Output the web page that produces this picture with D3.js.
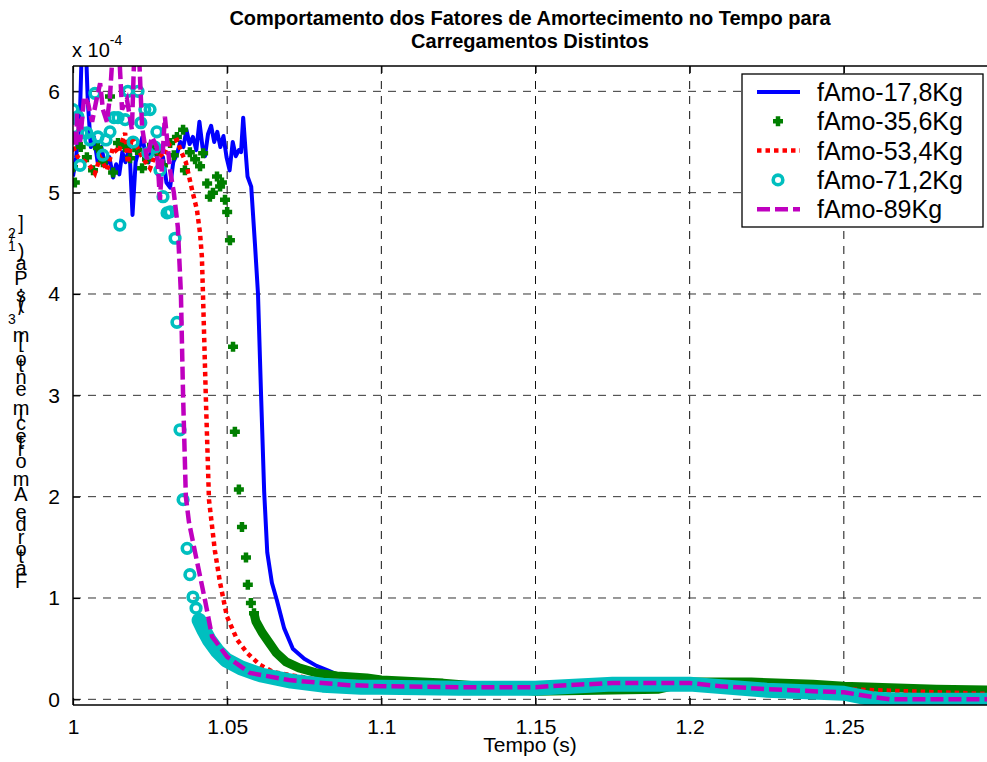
<!DOCTYPE html>
<html><head><meta charset="utf-8">
<script src="https://cdn.jsdelivr.net/npm/d3@7"></script>
<style>body{margin:0;background:#fff}svg{display:block;font-family:"Liberation Sans",Arial,Helvetica,sans-serif}</style>
</head><body><svg id="c" width="987" height="762"></svg>
<script>
// ---------- texts & ticks ----------
const titleLines = ["Comportamento dos Fatores de Amortecimento no Tempo para", "Carregamentos Distintos"];
const xLabel = "Tempo (s)";
const yLabelParts = [["Fator de Amortecimento [m", false], ["3", true], ["/(s.Pa)", false], ["1/2", true], ["]", false]];
const xTicks = [1, 1.05, 1.1, 1.15, 1.2, 1.25];
const xTickLabels = ["1", "1.05", "1.1", "1.15", "1.2", "1.25"];
const yTicks = [0, 1, 2, 3, 4, 5, 6];
const yTickLabels = ["0", "1", "2", "3", "4", "5", "6"];
const yExponentBase = "x 10";
const yExponent = "-4";
const seriesNames = ["fAmo-17,8Kg", "fAmo-35,6Kg", "fAmo-53,4Kg", "fAmo-71,2Kg", "fAmo-89Kg"];
const seriesColors = ["#0000ff", "#007f00", "#ff0000", "#00bfbf", "#bf00bf"];

// ---------- data (values in units of 1e-4) ----------
const fAmo178 = [[1.0000,5.16],[1.0010,5.35],[1.0022,5.70],[1.0030,6.60],[1.0040,6.60],[1.0048,5.90],[1.0058,5.45],[1.0068,5.55],[1.0080,5.30],[1.0092,5.45],[1.0105,5.26],[1.0118,5.35],[1.0130,5.15],[1.0140,5.28],[1.0150,5.18],[1.0160,5.40],[1.0170,5.30],[1.0183,5.45],[1.0193,4.78],[1.0203,5.30],[1.0213,5.42],[1.0225,5.55],[1.0235,5.38],[1.0245,5.30],[1.0255,5.45],[1.0268,5.40],[1.0280,5.25],[1.0292,5.35],[1.0303,5.10],[1.0315,5.05],[1.0325,5.30],[1.0337,5.38],[1.0348,5.50],[1.0358,5.45],[1.0368,5.62],[1.0378,5.48],[1.0389,5.55],[1.0400,5.42],[1.0410,5.70],[1.0420,5.45],[1.0428,5.36],[1.0438,5.58],[1.0448,5.66],[1.0458,5.50],[1.0468,5.60],[1.0478,5.45],[1.0488,5.56],[1.0498,5.35],[1.0508,5.22],[1.0518,5.50],[1.0528,5.36],[1.0538,5.42],[1.0545,5.40],[1.0552,5.74],[1.0560,5.40],[1.0566,5.16],[1.0578,5.06],[1.0590,4.50],[1.0600,4.00],[1.0610,3.00],[1.0620,2.05],[1.0630,1.45],[1.0645,1.15],[1.0661,0.98],[1.0685,0.70],[1.0713,0.50],[1.0750,0.40],[1.0790,0.33],[1.0830,0.28],[1.0875,0.22],[1.0950,0.19],[1.1000,0.17],[1.1200,0.16],[1.1500,0.15],[1.1750,0.17],[1.2000,0.17],[1.2250,0.16],[1.2500,0.13],[1.2700,0.10],[1.2900,0.08],[1.3000,0.07]];

const fAmo356Markers = [[1.0000,5.25],[1.0006,5.10],[1.0025,5.45],[1.0045,5.35],[1.0065,5.22],[1.0081,5.44],[1.0097,5.30],[1.0120,5.95],[1.0130,5.20],[1.0146,5.49],[1.0169,5.45],[1.0185,5.34],[1.0208,5.42],[1.0224,5.24],[1.0240,5.33],[1.0256,5.47],[1.0272,5.40],[1.0292,5.27],[1.0315,5.49],[1.0327,5.37],[1.0337,5.55],[1.0357,5.62],[1.0363,5.22],[1.0379,5.40],[1.0396,5.33],[1.0412,5.26],[1.0422,5.39],[1.0435,5.09],[1.0444,4.96],[1.0454,5.00],[1.0467,5.16],[1.0477,5.06],[1.0483,5.10],[1.0493,4.93],[1.0500,4.81],[1.0509,4.53],[1.0519,3.48],[1.0525,2.64],[1.0538,2.07],[1.0548,1.70],[1.0561,1.40],[1.0567,1.13],[1.0577,0.95],[1.0587,0.85]];
const fAmo356Band = [[1.0587,0.85],[1.0593,0.77],[1.0613,0.66],[1.0636,0.56],[1.0659,0.46],[1.0691,0.37],[1.0733,0.31],[1.0791,0.26],[1.0856,0.23],[1.0953,0.21],[1.1000,0.19],[1.1200,0.16],[1.1400,0.11],[1.1500,0.08],[1.1700,0.09],[1.1900,0.10],[1.2000,0.17],[1.2200,0.17],[1.2400,0.15],[1.2500,0.13],[1.2600,0.12],[1.2800,0.10],[1.3000,0.09]];

const fAmo534 = [[1.0000,5.45],[1.0016,5.35],[1.0049,5.29],[1.0071,5.19],[1.0088,5.35],[1.0110,5.22],[1.0130,5.45],[1.0146,5.39],[1.0169,5.59],[1.0178,5.29],[1.0191,5.55],[1.0208,5.45],[1.0224,5.35],[1.0250,5.24],[1.0272,5.42],[1.0292,5.35],[1.0315,5.49],[1.0337,5.52],[1.0353,5.39],[1.0366,5.30],[1.0386,5.03],[1.0402,4.83],[1.0412,4.60],[1.0418,4.37],[1.0422,3.95],[1.0431,2.96],[1.0441,1.97],[1.0460,1.47],[1.0477,1.15],[1.0499,0.82],[1.0532,0.59],[1.0564,0.46],[1.0606,0.34],[1.0649,0.27],[1.0704,0.24],[1.0801,0.19],[1.1000,0.16],[1.1500,0.14],[1.2000,0.15],[1.2500,0.10],[1.3000,0.05]];

const fAmo712Markers = [[1.0000,5.82],[1.0003,5.64],[1.0016,5.75],[1.0023,5.27],[1.0029,5.59],[1.0045,5.59],[1.0055,5.52],[1.0071,5.98],[1.0081,5.55],[1.0097,5.37],[1.0107,5.52],[1.0120,5.60],[1.0133,5.74],[1.0146,5.74],[1.0152,4.68],[1.0169,5.72],[1.0178,6.00],[1.0195,5.50],[1.0211,6.00],[1.0220,5.69],[1.0233,5.82],[1.0243,5.39],[1.0250,5.82],[1.0266,5.45],[1.0272,5.60],[1.0282,5.22],[1.0292,4.96],[1.0305,4.80],[1.0315,4.81],[1.0331,4.55],[1.0337,3.72],[1.0347,2.66],[1.0357,1.97],[1.0370,1.49],[1.0379,1.23],[1.0389,1.01],[1.0399,0.90],[1.0409,0.78]];
const fAmo712Band = [[1.0409,0.78],[1.0425,0.68],[1.0441,0.59],[1.0467,0.48],[1.0496,0.39],[1.0545,0.31],[1.0610,0.24],[1.0707,0.18],[1.0810,0.14],[1.0934,0.12],[1.1000,0.12],[1.1250,0.11],[1.1500,0.11],[1.1750,0.15],[1.2000,0.15],[1.2250,0.09],[1.2500,0.06],[1.2600,0.00],[1.2700,-0.01],[1.3000,-0.01]];

const fAmo89 = [[1.0000,5.60],[1.0010,5.45],[1.0013,5.78],[1.0023,5.50],[1.0036,5.95],[1.0049,5.88],[1.0062,5.70],[1.0075,5.90],[1.0088,6.08],[1.0097,5.82],[1.0110,5.70],[1.0120,5.95],[1.0133,6.60],[1.0146,6.60],[1.0159,5.82],[1.0175,5.92],[1.0191,5.62],[1.0201,6.60],[1.0211,6.60],[1.0224,5.65],[1.0240,5.33],[1.0256,5.55],[1.0272,5.45],[1.0282,4.93],[1.0298,5.75],[1.0315,5.22],[1.0327,5.00],[1.0340,4.66],[1.0350,4.00],[1.0357,3.00],[1.0366,2.00],[1.0376,1.75],[1.0396,1.45],[1.0428,0.98],[1.0451,0.62],[1.0500,0.42],[1.0574,0.26],[1.0700,0.19],[1.0895,0.14],[1.1000,0.13],[1.1250,0.12],[1.1500,0.12],[1.1600,0.14],[1.1750,0.16],[1.2000,0.16],[1.2100,0.13],[1.2250,0.10],[1.2400,0.08],[1.2500,0.07],[1.2600,0.02],[1.2650,0.00],[1.3000,0.00]];

// ---------- layout ----------
const W = 987, H = 762;
const L = 73, R = 998, T = 66, B = 705;
const svg = d3.select("#c");
svg.append("rect").attr("width", W).attr("height", H).attr("fill", "#fff");

const x = d3.scaleLinear().domain([1, 1.3]).range([L, R]);
const y = d3.scaleLinear().domain([-0.056, 6.25]).range([B, T]);

svg.append("defs").append("clipPath").attr("id", "clip")
  .append("rect").attr("x", L).attr("y", T).attr("width", R - L).attr("height", B - T);

// grid
const grid = svg.append("g");
grid.selectAll(".gx").data(xTicks.slice(1)).enter().append("line")
  .attr("x1", d => x(d)).attr("x2", d => x(d)).attr("y1", T).attr("y2", B)
  .attr("stroke", "#111").attr("stroke-width", 1).attr("stroke-dasharray", "8,7");
grid.selectAll(".gy").data(yTicks).enter().append("line")
  .attr("x1", L).attr("x2", R).attr("y1", d => y(d)).attr("y2", d => y(d))
  .attr("stroke", "#333").attr("stroke-width", 1).attr("stroke-dasharray", "8,7");

// axes with inward ticks
const axB = d3.axisBottom(x).tickValues(xTicks).tickFormat((d, i) => xTickLabels[i]).tickSizeInner(-7).tickSizeOuter(0).tickPadding(14);
const axT = d3.axisTop(x).tickValues(xTicks).tickFormat("").tickSizeInner(-7).tickSizeOuter(0);
const axL = d3.axisLeft(y).tickValues(yTicks).tickFormat((d, i) => yTickLabels[i]).tickSizeInner(-7).tickSizeOuter(0).tickPadding(13);
const axR = d3.axisRight(y).tickValues(yTicks).tickFormat("").tickSizeInner(-7).tickSizeOuter(0);
function styleAxis(g) {
  g.select(".domain").remove();
  g.selectAll("line").attr("stroke", "#000").attr("stroke-width", 1.2);
  g.selectAll("text").attr("fill", "#000").style("font-size", "21px").style("font-family", '"Liberation Sans",Arial,sans-serif');
}
svg.append("g").attr("transform", `translate(0,${B})`).call(axB).call(styleAxis);
svg.append("g").attr("transform", `translate(0,${T})`).call(axT).call(styleAxis);
svg.append("g").attr("transform", `translate(${L},0)`).call(axL).call(styleAxis);
svg.append("g").attr("transform", `translate(${R},0)`).call(axR).call(styleAxis);

// data layers
const plot = svg.append("g").attr("clip-path", "url(#clip)");
const line = d3.line().x(d => x(d[0])).y(d => y(d[1]));

// 1 blue
plot.append("path").datum(fAmo178).attr("d", line).attr("fill", "none")
  .attr("stroke", seriesColors[0]).attr("stroke-width", 4).attr("stroke-linejoin", "round");

// 2 green markers
const plusPath = "M-5,0H5M0,-5V5";
plot.append("path").datum(fAmo356Band).attr("d", line).attr("fill", "none")
  .attr("stroke", seriesColors[1]).attr("stroke-width", 9).attr("stroke-linejoin", "round");
plot.selectAll(".g2").data(fAmo356Markers).enter().append("path")
  .attr("transform", d => `translate(${x(d[0])},${y(d[1])})`).attr("d", plusPath)
  .attr("stroke", seriesColors[1]).attr("stroke-width", 4.5).attr("fill", "none");

// 3 red dotted
plot.append("path").datum(fAmo534).attr("d", line).attr("fill", "none")
  .attr("stroke", seriesColors[2]).attr("stroke-width", 4.5).attr("stroke-dasharray", "4.5,4");

// 4 cyan circles
plot.append("path").datum(fAmo712Band).attr("d", line).attr("fill", "none")
  .attr("stroke", seriesColors[3]).attr("stroke-width", 15).attr("stroke-linejoin", "round").attr("stroke-linecap", "round");
plot.selectAll(".c4").data(fAmo712Markers).enter().append("circle")
  .attr("cx", d => x(d[0])).attr("cy", d => y(d[1])).attr("r", 4.8)
  .attr("fill", "none").attr("stroke", seriesColors[3]).attr("stroke-width", 3.6);

// 5 magenta dashed
plot.append("path").datum(fAmo89).attr("d", line).attr("fill", "none")
  .attr("stroke", seriesColors[4]).attr("stroke-width", 4.5).attr("stroke-dasharray", "13,5");

// box
svg.append("line").attr("x1", L).attr("x2", R).attr("y1", T).attr("y2", T).attr("stroke", "#000").attr("stroke-width", 1.5);
svg.append("line").attr("x1", L).attr("x2", R).attr("y1", B).attr("y2", B).attr("stroke", "#000").attr("stroke-width", 1.5);
svg.append("line").attr("x1", L).attr("x2", L).attr("y1", T).attr("y2", B).attr("stroke", "#000").attr("stroke-width", 1.5);
svg.append("line").attr("x1", R).attr("x2", R).attr("y1", T).attr("y2", B).attr("stroke", "#000").attr("stroke-width", 1.5);

// exponent
const ex = svg.append("text").attr("x", 72).attr("y", 57).style("font-size", "20px");
ex.append("tspan").text(yExponentBase);
ex.append("tspan").attr("dy", -12).style("font-size", "14px").text(yExponent);

// title
svg.selectAll(".title").data(titleLines).enter().append("text")
  .attr("x", 530).attr("y", (d, i) => 24.5 + i * 23.5).attr("text-anchor", "middle")
  .style("font-size", "20px").style("font-weight", "bold").text(d => d);

// x label
svg.append("text").attr("x", 530).attr("y", 752).attr("text-anchor", "middle").style("font-size", "21px").text(xLabel);

// y label: characters stacked upright along a vertical baseline
const yl = svg.append("g");
let pos = 588;
const advScale = 1.09;
yLabelParts.forEach(([str, sup]) => {
  for (const ch of str) {
    const fs = sup ? 14 : 20;
    const t = yl.append("text").attr("text-anchor", "middle").style("font-size", fs + "px").text(ch === " " ? "\u00a0" : ch);
    const adv = t.node().getComputedTextLength();
    t.attr("x", sup ? 12 : 21).attr("y", pos);
    pos -= adv * advScale;
  }
});

// legend
const lg = svg.append("g");
lg.append("rect").attr("x", 742).attr("y", 74).attr("width", 241).attr("height", 153)
  .attr("fill", "#fff").attr("stroke", "#000").attr("stroke-width", 1.3);
const rowY = i => 92 + i * 29.3;
seriesNames.forEach((name, i) => {
  const cy = rowY(i);
  if (i === 0) lg.append("line").attr("x1", 757).attr("x2", 800).attr("y1", cy).attr("y2", cy).attr("stroke", seriesColors[0]).attr("stroke-width", 4);
  if (i === 1) lg.append("path").attr("transform", `translate(778,${cy})`).attr("d", plusPath).attr("stroke", seriesColors[1]).attr("stroke-width", 4.5);
  if (i === 2) lg.append("line").attr("x1", 757).attr("x2", 800).attr("y1", cy).attr("y2", cy).attr("stroke", seriesColors[2]).attr("stroke-width", 4.5).attr("stroke-dasharray", "4.5,4");
  if (i === 3) lg.append("circle").attr("cx", 778).attr("cy", cy).attr("r", 4.8).attr("fill", "none").attr("stroke", seriesColors[3]).attr("stroke-width", 3.6);
  if (i === 4) lg.append("line").attr("x1", 757).attr("x2", 800).attr("y1", cy).attr("y2", cy).attr("stroke", seriesColors[4]).attr("stroke-width", 4.5).attr("stroke-dasharray", "13,5");
  lg.append("text").attr("x", 817).attr("y", cy + 9).style("font-size", "25px").text(name);
});
</script></body></html>
